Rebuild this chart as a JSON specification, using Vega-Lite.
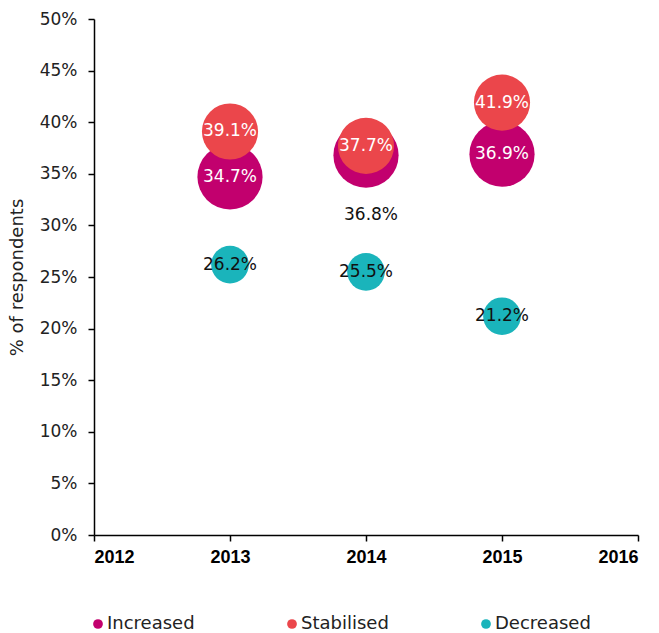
{
  "$schema": "https://vega.github.io/schema/vega-lite/v6.json",
  "width": 544,
  "height": 516,
  "autosize": {"type": "none"},
  "padding": {"left": 94, "top": 19, "right": 21, "bottom": 98},
  "config": {
    "font": "DejaVu Sans",
    "view": {"stroke": null},
    "axis": {"grid": false, "domainColor": "#000000", "tickColor": "#000000", "labelColor": "#222222", "labelFont": "DejaVu Sans", "titleFont": "DejaVu Sans"}
  },
  "data": {
    "values": [
      {"year": 2013, "series": "Increased", "value": 0.347},
      {"year": 2014, "series": "Increased", "value": 0.368},
      {"year": 2015, "series": "Increased", "value": 0.369},
      {"year": 2013, "series": "Stabilised", "value": 0.391},
      {"year": 2014, "series": "Stabilised", "value": 0.377},
      {"year": 2015, "series": "Stabilised", "value": 0.419},
      {"year": 2013, "series": "Decreased", "value": 0.262},
      {"year": 2014, "series": "Decreased", "value": 0.255},
      {"year": 2015, "series": "Decreased", "value": 0.212}
    ]
  },
  "encoding": {
    "x": {
      "field": "year", "type": "quantitative",
      "scale": {"domain": [2012, 2016], "nice": false, "zero": false},
      "axis": {"values": [2012, 2013, 2014, 2015, 2016], "format": "d", "title": null, "labelFont": "Liberation Sans", "labelFontSize": 18, "labelFontWeight": "bold", "labelColor": "#000000", "tickSize": 6, "labelPadding": 7, "domainWidth": 1.5, "tickWidth": 1.5}
    },
    "y": {
      "field": "value", "type": "quantitative",
      "scale": {"domain": [0, 0.5], "nice": false},
      "axis": {"values": [0, 0.05, 0.1, 0.15, 0.2, 0.25, 0.3, 0.35, 0.4, 0.45, 0.5], "format": ".0%", "title": "% of respondents", "titleFontSize": 18, "titleFontWeight": "normal", "titleColor": "#222222", "titlePadding": 13, "labelFontSize": 17, "tickSize": 6, "labelPadding": 11, "domainWidth": 1.5, "tickWidth": 1.5}
    }
  },
  "layer": [
    {
      "mark": {"type": "circle", "opacity": 1},
      "encoding": {
        "color": {
          "field": "series", "type": "nominal",
          "scale": {"domain": ["Increased", "Stabilised", "Decreased"], "range": ["#C2006E", "#EB464B", "#1AB4BB"]},
          "legend": {"orient": "none", "legendX": -5, "legendY": 596, "direction": "horizontal", "title": null, "symbolType": "circle", "symbolSize": 95, "symbolOpacity": 1, "labelFontSize": 18, "labelColor": "#222222", "labelOffset": 0, "gridAlign": "all", "columnPadding": 80}
        },
        "size": {
          "field": "series", "type": "nominal",
          "scale": {"type": "ordinal", "domain": ["Increased", "Stabilised", "Decreased"], "range": [4250, 3150, 1420]},
          "legend": null
        }
      }
    },
    {
      "transform": [{"filter": "!(datum.series == 'Increased' && datum.year == 2014)"}],
      "mark": {"type": "text", "fontSize": 17, "baseline": "middle", "align": "center"},
      "encoding": {
        "text": {"field": "value", "type": "quantitative", "format": ".1%"},
        "color": {
          "field": "series", "type": "nominal",
          "scale": {"domain": ["Increased", "Stabilised", "Decreased"], "range": ["#ffffff", "#ffffff", "#111111"]},
          "legend": null
        }
      }
    },
    {
      "transform": [{"filter": "datum.series == 'Increased' && datum.year == 2014"}],
      "mark": {"type": "text", "fontSize": 17, "baseline": "middle", "align": "center", "dy": 60, "dx": 5, "color": "#111111"},
      "encoding": {
        "text": {"field": "value", "type": "quantitative", "format": ".1%"}
      }
    }
  ],
  "resolve": {"scale": {"color": "independent"}}
}
